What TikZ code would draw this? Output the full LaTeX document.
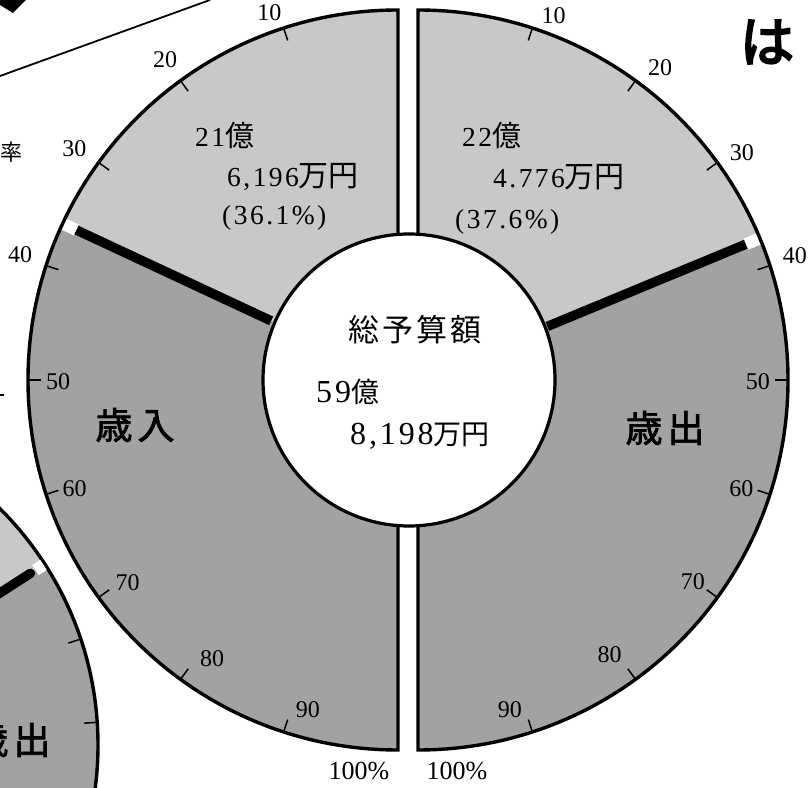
\documentclass[tikz,border=0pt]{standalone}
\usepackage{fontspec}
\setmainfont{Liberation Serif}
\newfontfamily\numf[LetterSpace=9]{Liberation Serif}
\newfontfamily\jp[AutoFakeBold=2]{Noto Sans CJK JP}
\newfontfamily\jpheavy[FakeBold=4]{Noto Sans CJK JP}
\definecolor{lightseg}{RGB}{200,200,200}
\definecolor{darkseg}{RGB}{162,162,162}
\newcommand\kanji[2][29]{{\jp\fontsize{#1}{#1}\selectfont #2}}
\begin{document}
\begin{tikzpicture}[x=1pt,y=1pt,
  edge/.style={line width=3.4pt, line join=miter},
  tickmark/.style={line width=1.5pt},
  ticklab/.style={font=\fontsize{24}{24}\selectfont, inner sep=0},
  divider/.style={line width=9.5pt},
  gapmark/.style={white, line width=12pt},
  segtext/.style={font=\fontsize{27.5}{27.5}\numf, anchor=base west, inner sep=0},
  midtext/.style={font=\fontsize{32}{32}\numf, anchor=base west, inner sep=0},
  bigkanji/.style={font=\jp\bfseries\fontsize{37}{37}\selectfont, inner sep=0},
  pctlab/.style={font=\fontsize{26}{26}\selectfont, inner sep=0}]
\useasboundingbox (0,0) rectangle (810,787);
\clip (0,0) rectangle (810,787);

\coordinate (Lc) at (398,407);
\coordinate (Rc) at (418,407);
\coordinate (Ic) at (409,407);
\coordinate (Bc) at (-236,42);

% partial chart, bottom left
\fill[darkseg] (Bc) circle[radius=334];
\fill[lightseg] (Bc) -- ++(32.8:334) arc[start angle=32.8,end angle=90,radius=334] -- cycle;
\foreach \a in {18.5,3.9} \draw[tickmark] ([shift={(\a:321)}]Bc) -- ([shift={(\a:334)}]Bc);
\draw[edge] (Bc) circle[radius=334];
\draw[divider, line cap=round] ([shift={(32.8:260)}]Bc) -- ([shift={(32.8:317)}]Bc);
\draw[gapmark] ([shift={(32.8:323)}]Bc) -- ([shift={(32.8:332.5)}]Bc);
\node[bigkanji] (pe) at (11,47) {歳\hspace{5pt}出};

% main chart segments
\fill[lightseg] (Lc) -- ++(90:370) arc[start angle=90,end angle=155,radius=370] -- cycle;
\fill[darkseg] (Lc) -- ++(155:370) arc[start angle=155,end angle=270,radius=370] -- cycle;
\fill[lightseg] (Rc) -- ++(90:370) arc[start angle=90,end angle=22.5,radius=370] -- cycle;
\fill[darkseg] (Rc) -- ++(22.5:370) arc[start angle=22.5,end angle=-90,radius=370] -- cycle;

\foreach \p in {10,20,...,90} {
  \draw[tickmark] ([shift={({90+1.8*\p}:357)}]Lc) -- ([shift={({90+1.8*\p}:370)}]Lc);
  \draw[tickmark] ([shift={({90-1.8*\p}:357)}]Rc) -- ([shift={({90-1.8*\p}:370)}]Rc);
}

\draw[edge] ([shift={(90:370)}]Lc) arc[start angle=90,end angle=270,radius=370] -- cycle;
\draw[edge] ([shift={(90:370)}]Rc) arc[start angle=90,end angle=-90,radius=370] -- cycle;

\draw[divider] ([shift={(155:140)}]Lc) -- ([shift={(155:355)}]Lc);
\draw[gapmark] ([shift={(155:355)}]Lc) -- ([shift={(155:368)}]Lc);
\draw[divider] ([shift={(22.5:140)}]Rc) -- ([shift={(22.5:355)}]Rc);
\draw[gapmark] ([shift={(22.5:355)}]Rc) -- ([shift={(22.5:368)}]Rc);

\node[circle, draw, line width=3.2pt, fill=white, minimum size=292pt, inner sep=0] (hub) at (Ic) {};

% tick labels
\foreach \p/\a/\r in {10/109.3/389, 20/126/396, 30/144.4/398, 40/161.7/398, 50/180.3/340, 60/198.5/341, 70/216.9/338, 80/236.3/335, 90/254.7/342}
  \node[ticklab] at ([shift={(\a:\r)}]Lc) {\p};
\foreach \p/\a/\r in {10/69.6/389, 20/52.2/395, 30/35.1/396, 40/18.3/397, 50/-0.3/340, 60/-18.5/341, 70/-36.3/341, 80/-55.1/335, 90/-74.4/342}
  \node[ticklab] at ([shift={(\a:\r)}]Rc) {\p};

% segment texts
\node[segtext] (l1) at (195,640) {21\kanji{億}};
\node[segtext] (l2) at (227,600) {6,196\kanji[30]{万円}};
\node[segtext] (l3) at (222,562) {(36.1\%)};
\node[segtext] (r1) at (462,640) {22\kanji{億}};
\node[segtext] (r2) at (493,599) {4.776\kanji[30]{万円}};
\node[segtext] (r3) at (455,558) {(37.6\%)};

% centre texts
\node[inner sep=0] (ct) at (415,457) {\kanji[31]{総\hspace{3pt}予\hspace{3pt}算\hspace{3pt}額}};
\node[midtext] (c1) at (316,384) {59\kanji[28]{億}};
\node[midtext] (c2) at (350,342) {8,198\kanji[28]{万円}};

\node[bigkanji] (inc) at (135,362) {歳\hspace{5pt}入};
\node[bigkanji] (exp) at (665,359) {歳\hspace{5pt}出};

\node[pctlab] (hl) at (359,16) {100\%};
\node[pctlab] (hr) at (457,16) {100\%};

% surrounding fragments
\node[font=\jp\fontsize{22}{22}\selectfont, inner sep=0] (rate) at (12,635) {率};
\node[font=\jpheavy\fontsize{54}{54}\selectfont, inner sep=0] (ha) at (767,745) {は};
\draw[line width=1.8pt] (0,711) -- (210,787);
\fill (0,787) -- (26,787) -- (13,774) -- (0,782) -- cycle;
\fill (0,391) rectangle (4,393);
\end{tikzpicture}
\end{document}
